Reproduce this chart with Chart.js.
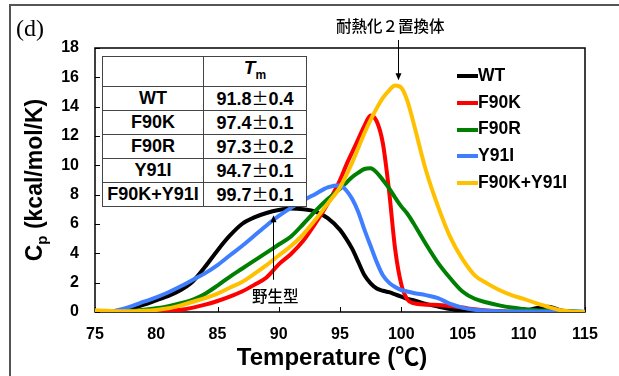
<!DOCTYPE html>
<html>
<head>
<meta charset="utf-8">
<script src="https://cdn.jsdelivr.net/npm/chart.js@4.4.1/dist/chart.umd.min.js"></script>
<style>
  body { margin: 0; background: #fff; }
  #wrap { position: relative; width: 619px; height: 376px; overflow: hidden;
          font-family: "Liberation Sans", Arial, sans-serif; color: #000; }
  #chart { position: absolute; left: 0; top: 0; }
  #frame { position: absolute; left: 9px; top: 4px; width: 700px; height: 500px;
           border-top: 2px solid #555; border-left: 2px solid #555; }
  #tag { position: absolute; left: 16px; top: 16px; font: 24px/24px "Liberation Serif", "Times New Roman", serif; }
  #tm { position: absolute; left: 102px; top: 56px; border-collapse: collapse; background: #fff;
        font-weight: bold; font-size: 18px; table-layout: fixed; }
  #tm td { border: 1px solid #444; height: 22px; padding: 0; text-align: center; line-height: 22px; white-space: nowrap; }
  #legend { position: absolute; left: 457px; top: 62px; font-weight: bold; font-size: 17.5px; }
  #legend div { height: 26.7px; line-height: 26.7px; white-space: nowrap; }
  #legend span.sw { display: inline-block; width: 21px; height: 4px; vertical-align: middle; }
  .note { position: absolute; font-family: "Noto Sans CJK JP", sans-serif; font-size: 15.5px; font-weight: 500; white-space: nowrap; }
</style>
</head>
<body>
<div id="wrap">
  <canvas id="chart" width="619" height="376"></canvas>
  <div id="frame"></div>
  <div id="tag">(d)</div>
  <table id="tm"></table>
  <div id="legend"></div>
  <div class="note" id="noteTop" style="left:336px; top:14px;">耐熱化２置換体</div>
  <div class="note" id="noteWt" style="left:252px; top:284px;">野生型</div>
</div>
<script>
'use strict';

// temperature grid (deg C) shared by all curves
const temps = [75, 76, 77, 78, 79, 80, 81, 82, 83, 84, 85, 86, 87, 88, 89, 90, 91, 92, 93, 94, 95,
  95.5, 96, 96.5, 97, 97.5, 98, 98.5, 99, 99.5, 100, 100.5, 101,
  102, 103, 104, 105, 106, 107, 108, 109, 110, 111, 112, 113, 114, 115];

// Cp (kcal/mol/K)
const cpWT = [0, 0, 0.05, 0.25, 0.5, 0.8, 1.1, 1.5, 2.1, 3.1, 4.2, 5.2, 6.0, 6.45, 6.75, 6.95, 7.05, 7.0, 6.85, 6.4, 5.6,
  5.0, 4.3, 3.4, 2.5, 1.95, 1.6, 1.45, 1.35, 1.2, 1.05, 0.9, 0.8,
  0.55, 0.38, 0.2, 0.08, 0.02, 0, 0, 0, 0.05, 0.25, 0.35, 0.12, 0, 0];
const cpF90K = [0, 0, 0, 0, 0, 0, 0.05, 0.15, 0.3, 0.5, 0.75, 1.05, 1.4, 1.85, 2.35, 3.25, 3.95, 4.85, 6.05, 7.4, 9.0,
  10.0, 10.9, 11.8, 12.7, 13.4, 13.0, 11.5, 8.3, 4.3, 1.9, 0.85, 0.6,
  0.5, 0.48, 0.4, 0.3, 0.18, 0.1, 0.06, 0.03, 0, 0, 0, 0, 0, 0];
const cpF90R = [0, 0, 0.02, 0.08, 0.15, 0.25, 0.4, 0.6, 0.85, 1.25, 1.8, 2.4, 2.95, 3.5, 4.05, 4.6, 5.15, 6.0, 6.9, 7.7, 8.4,
  8.8, 9.2, 9.5, 9.75, 9.8, 9.5, 9.0, 8.45, 7.8, 7.2, 6.7, 6.05,
  4.65, 3.35, 2.3, 1.4, 0.9, 0.65, 0.45, 0.3, 0.2, 0.12, 0.1, 0.08, 0.05, 0];
const cpY91I = [0, 0, 0.15, 0.4, 0.7, 1.0, 1.35, 1.75, 2.2, 2.65, 3.2, 3.85, 4.5, 5.2, 5.9, 6.55, 7.1, 7.6, 8.05, 8.5, 8.65,
  8.3, 7.7, 6.8, 5.6, 4.5, 3.4, 2.5, 2.0, 1.7, 1.5, 1.4, 1.3,
  1.15, 0.95, 0.55, 0.3, 0.15, 0.08, 0.05, 0.04, 0.03, 0.03, 0.03, 0.02, 0.02, 0.02];
const cpF90KY91I = [0.12, 0.08, 0.05, 0.05, 0.08, 0.14, 0.25, 0.45, 0.7, 0.95, 1.25, 1.65, 2.05, 2.6, 3.2, 3.85, 4.5, 5.3, 6.3, 7.4, 8.5,
  9.3, 10.2, 11.2, 12.2, 13.1, 13.9, 14.6, 15.1, 15.45, 15.3, 14.4, 12.9,
  9.7, 7.2, 5.1, 3.6, 2.5, 1.95, 1.5, 1.15, 0.9, 0.6, 0.35, 0.12, 0.02, 0];

const names = ['WT', 'F90K', 'F90R', 'Y91I', 'F90K+Y91I'];
const colors = ['#000000', '#ff0000', '#008000', '#3f7fff', '#ffc000'];
const curves = [cpWT, cpF90K, cpF90R, cpY91I, cpF90KY91I];

// Tm table
const tmMean = ['91.8', '97.4', '97.3', '94.7', '99.7'];
const tmErr = ['0.4', '0.1', '0.2', '0.1', '0.1'];

const xTitle = 'Temperature (℃)';
const yTitleMain = 'C';
const yTitleSub = 'p';
const yTitleRest = ' (kcal/mol/K)';

// builds the Tm table
let html = '<tr><td style="width:100px"></td><td style="width:102px"><i style="font-size:19px">T</i><sub style="font-size:12px">m</sub></td></tr>';
for (let i = 0; i < names.length; i++) {
  html += '<tr><td>' + names[i] + '</td><td>' + tmMean[i] +
    '<span style="font-weight:normal;font-family:\'Noto Sans CJK JP\';font-size:17px">±</span>' + tmErr[i] + '</td></tr>';
}
document.getElementById('tm').innerHTML = html;

// legend on the right
let lg = '';
for (let i = 0; i < names.length; i++) {
  lg += '<div><span class="sw" style="background:' + colors[i] + '"></span>' + names[i] + '</div>';
}
document.getElementById('legend').innerHTML = lg;

function arrow(ctx, x, y0, y1) {
  const dir = y1 > y0 ? 1 : -1;
  ctx.beginPath();
  ctx.moveTo(x, y0);
  ctx.lineTo(x, y1 - dir * 5);
  ctx.stroke();
  ctx.beginPath();
  ctx.moveTo(x, y1);
  ctx.lineTo(x - 3, y1 - dir * 7);
  ctx.lineTo(x + 3, y1 - dir * 7);
  ctx.closePath();
  ctx.fill();
}

const decor = {
  id: 'decor',
  beforeDatasetsDraw(chart) {
    const {ctx, chartArea: a, scales: {x, y}} = chart;
    ctx.save();
    ctx.strokeStyle = '#000';
    ctx.lineWidth = 1.5;
    ctx.strokeRect(a.left, a.top, a.right - a.left, a.bottom - a.top);
    ctx.lineWidth = 1;
    ctx.beginPath();
    y.ticks.forEach(t => {
      const py = Math.round(y.getPixelForValue(t.value)) + 0.5;
      ctx.moveTo(a.left, py); ctx.lineTo(a.left + 5, py);
    });
    x.ticks.forEach(t => {
      const px = Math.round(x.getPixelForValue(t.value)) + 0.5;
      ctx.moveTo(px, a.bottom); ctx.lineTo(px, a.bottom - 5);
    });
    ctx.stroke();
    ctx.restore();
  },
  afterDraw(chart) {
    const {ctx, chartArea: a, scales: {x, y}} = chart;
    ctx.save();
    ctx.strokeStyle = '#000';
    ctx.fillStyle = '#000';
    ctx.lineWidth = 1;
    // arrows to the double mutant peak and the wild type curve
    arrow(ctx, Math.round(x.getPixelForValue(99.7)) + 0.5, a.top - 8, y.getPixelForValue(15.8));
    arrow(ctx, Math.round(x.getPixelForValue(89.5)) + 0.5, y.getPixelForValue(2.2), y.getPixelForValue(6.6));

    // x title
    ctx.font = 'bold 24px "Liberation Sans", "Noto Sans CJK JP", sans-serif';
    ctx.textAlign = 'center';
    ctx.textBaseline = 'alphabetic';
    ctx.fillText(xTitle, 332, 365);

    // y title with subscript
    ctx.textAlign = 'left';
    ctx.translate(36, (a.top + a.bottom) / 2);
    ctx.rotate(-Math.PI / 2);
    ctx.textBaseline = 'middle';
    const big = 'bold 23px "Liberation Sans", Arial, sans-serif';
    const small = 'bold 15px "Liberation Sans", Arial, sans-serif';
    ctx.font = big;
    const w1 = ctx.measureText(yTitleMain).width;
    const w3 = ctx.measureText(yTitleRest).width;
    ctx.font = small;
    const w2 = ctx.measureText(yTitleSub).width;
    const px = -(w1 + w2 + w3) / 2;
    ctx.font = big;
    ctx.fillText(yTitleMain, px, 0);
    ctx.font = small;
    ctx.fillText(yTitleSub, px + w1, 7);
    ctx.font = big;
    ctx.fillText(yTitleRest, px + w1 + w2, 0);
    ctx.restore();
  }
};

Chart.defaults.font.family = '"Liberation Sans", Arial, sans-serif';
Chart.defaults.color = '#000';

const ctx = document.getElementById('chart').getContext('2d');
new Chart(ctx, {
  type: 'line',
  data: {
    datasets: names.map((n, i) => ({
      label: n,
      data: temps.map((t, k) => ({x: t, y: curves[i][k]})),
      borderColor: colors[i],
      borderWidth: 4,
      pointRadius: 0,
      cubicInterpolationMode: 'monotone',
      order: names.length - i
    }))
  },
  options: {
    responsive: false,
    animation: false,
    events: [],
    layout: {padding: {left: 0, top: 48, right: 34, bottom: 0}},
    plugins: {legend: {display: false}, tooltip: {enabled: false}},
    scales: {
      x: {
        type: 'linear', min: 75, max: 115,
        afterFit: s => { s.height = 64; },
        grid: {display: false, drawTicks: false},
        border: {display: false},
        ticks: {stepSize: 5, padding: 13, font: {size: 16, weight: 'bold'}, maxRotation: 0}
      },
      y: {
        min: 0, max: 18,
        afterFit: s => { s.width = 95; },
        grid: {display: false, drawTicks: false},
        border: {display: false},
        ticks: {stepSize: 2, padding: 16, font: {size: 16, weight: 'bold'}}
      }
    }
  },
  plugins: [decor]
});
</script>
</body>
</html>
